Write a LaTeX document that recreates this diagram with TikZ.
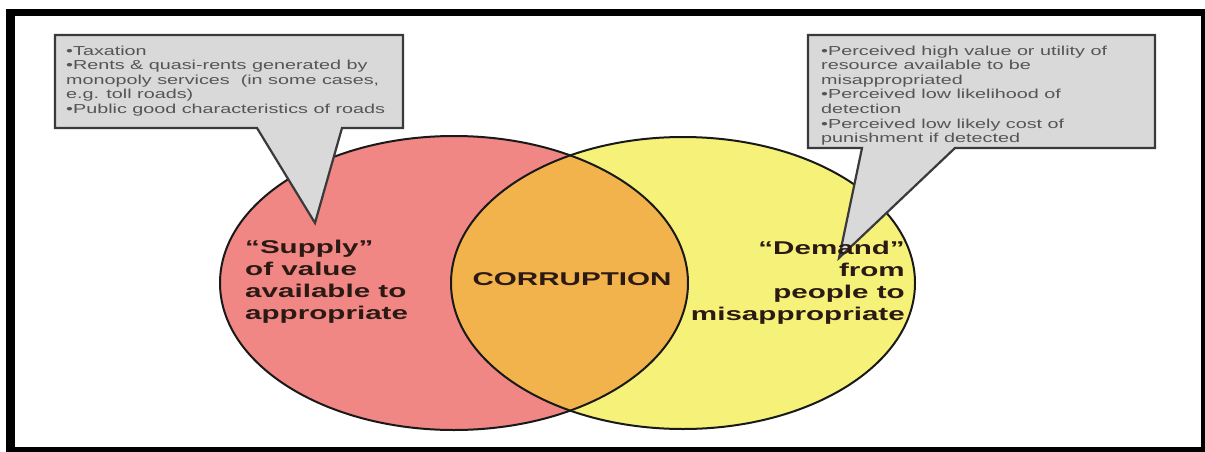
\documentclass[tikz,border=0pt]{standalone}
\usepackage{fontspec}
\newfontfamily\smallfnt[FakeStretch=1.52]{Liberation Sans}
\newfontfamily\bigfnt[FakeStretch=1.6]{Liberation Sans}
\definecolor{supplyred}{HTML}{F08784}
\definecolor{demandyel}{HTML}{F6F279}
\definecolor{overlaporg}{HTML}{F2B24C}
\definecolor{calloutgray}{HTML}{D9D9D9}
\definecolor{calloutline}{HTML}{3A3A3A}
\definecolor{smalltext}{HTML}{555555}
\definecolor{bigtext}{HTML}{2B1A14}
\tikzset{
  callout/.style={fill=calloutgray, draw=calloutline, line width=2.2pt, line join=miter},
  venn/.style={draw=black!90, line width=2pt},
  notetext/.style={inner sep=0pt, align=left, text=smalltext, font=\smallfnt\fontsize{13}{14.6}\selectfont},
  labeltext/.style={inner sep=0pt, text=bigtext, font=\bigfnt\bfseries\fontsize{18.5}{22}\selectfont},
}
\begin{document}
\begin{tikzpicture}[x=1pt,y=-1pt]
\useasboundingbox (0,0) rectangle (1205,452);
\fill[white] (0,0) rectangle (1205,452);
% frame
\fill[black] (6,9) rectangle (1205,452);
\fill[white] (15,16) rectangle (1201,447);
% ellipses
\coordinate (lc) at (454,283);
\coordinate (rc) at (683,283);
\fill[supplyred] (lc) ellipse [x radius=234, y radius=147];
\fill[demandyel] (rc) ellipse [x radius=232, y radius=146];
\begin{scope}
  \clip (lc) ellipse [x radius=234, y radius=147];
  \fill[overlaporg] (rc) ellipse [x radius=232, y radius=146];
\end{scope}
\draw[venn] (lc) ellipse [x radius=234, y radius=147];
\draw[venn] (rc) ellipse [x radius=232, y radius=146];
% callouts
\draw[callout] (55,35) -- (403,35) -- (403,128) -- (342,128) -- (315,223) -- (257,128) -- (55,128) -- cycle;
\draw[callout] (808,35) -- (1155,35) -- (1155,148) -- (955,148) -- (839,258) -- (862,148) -- (808,148) -- cycle;
% callout texts
\node[notetext, anchor=north west] (supplynote) at (66,45.5) {%
  •Taxation\\
  •Rents \& quasi-rents generated by\\
  monopoly services\ \ (in some cases,\\
  e.g. toll roads)\\
  •Public good characteristics of roads};
\node[notetext, anchor=north west] (demandnote) at (821,45.5) {%
  •Perceived high value or utility of\\
  resource available to be\\
  misappropriated\\
  •Perceived low likelihood of\\
  detection\\
  •Perceived low likely cost of\\
  punishment if detected};
% labels
\node[labeltext, align=left, anchor=north west] (supply) at (245,239.5) {%
  “Supply”\\
  of value\\
  available to\\
  appropriate};
\node[labeltext, align=right, anchor=north east] (demand) at (905,241) {%
  “Demand”\\
  from\\
  people to\\
  misappropriate};
\node[labeltext] (corruption) at (572,279) {CORRUPTION};
\end{tikzpicture}
\end{document}
